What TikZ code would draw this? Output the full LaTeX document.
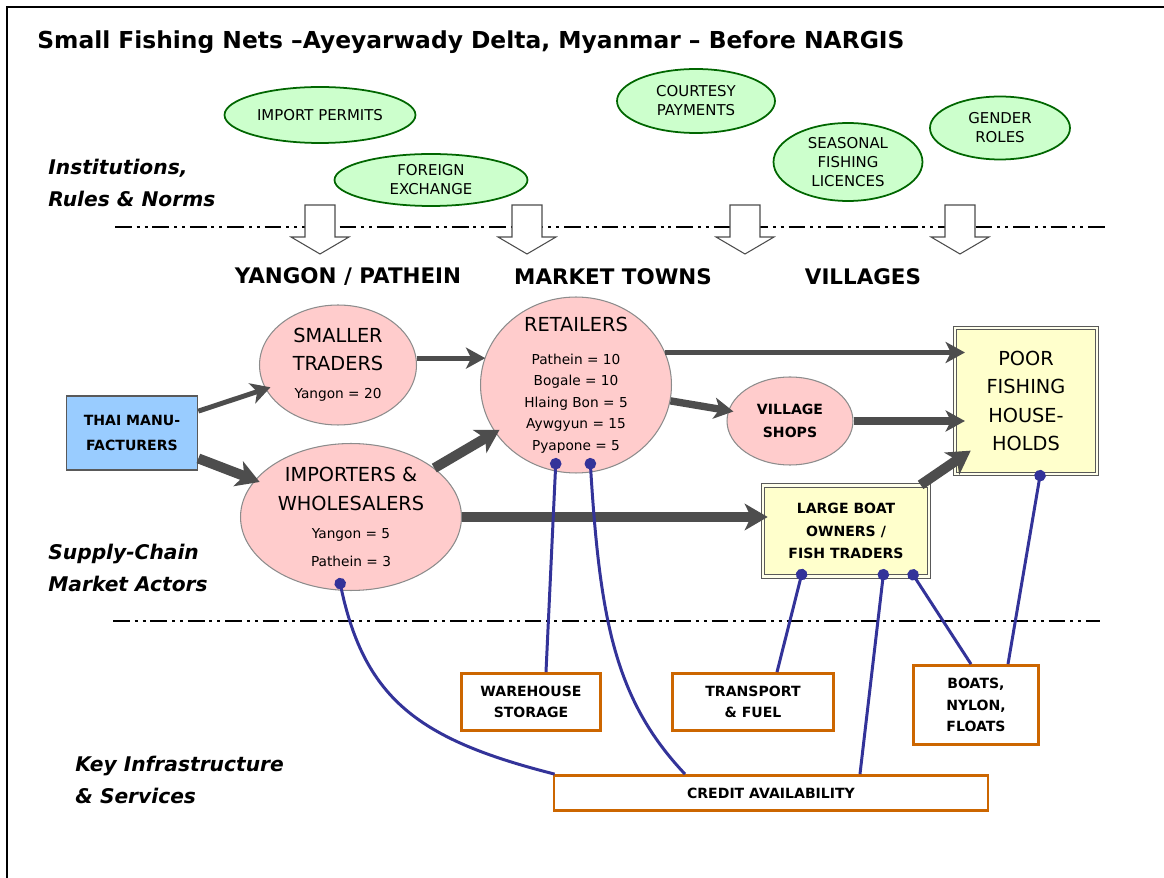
\documentclass[tikz,border=0pt]{standalone}
\usepackage{fontspec}
\setmainfont{DejaVu Sans}
\usepackage{xcolor}
\usepackage{tikz}
\usetikzlibrary{arrows.meta,positioning,shapes.geometric}

\definecolor{rulegreen}{HTML}{CCFFCC}
\definecolor{ruleedge}{HTML}{006600}
\definecolor{actorpink}{HTML}{FFCCCC}
\definecolor{actorblue}{HTML}{99CCFF}
\definecolor{actoryellow}{HTML}{FFFFCC}
\definecolor{servorange}{HTML}{CC6600}
\definecolor{flowgray}{HTML}{4D4D4D}
\definecolor{linkblue}{HTML}{333399}

\newcommand{\detail}{\fontsize{7.8}{12.2}\selectfont}

\begin{document}
\begin{tikzpicture}[
    x=0.02cm, y=-0.02cm,
    rule/.style={ellipse, draw=ruleedge, line width=1pt, fill=rulegreen, align=center, inner sep=0pt, font=\fontsize{8.5}{10.8}\selectfont},
    actor/.style={ellipse, draw=black!45, line width=0.6pt, fill=actorpink, align=center, inner sep=0pt, font=\fontsize{11}{16}\selectfont},
    maker/.style={draw=black!65, line width=1pt, fill=actorblue, align=center, inner sep=0pt, font=\bfseries\fontsize{8}{14.7}\selectfont},
    target/.style={draw=black!65, double=actoryellow!40!white, double distance=1.4pt, line width=0.7pt, fill=actoryellow, align=center, inner sep=0pt},
    service/.style={draw=servorange, line width=1.6pt, fill=white, align=center, inner sep=0pt, font=\bfseries\fontsize{8}{12.3}\selectfont},
    flow/.style={draw=flowgray, line width=2.8pt, -{Stealth[length=11pt, width=12pt, inset=3pt]}, shorten >=-3pt},
    flowmid/.style={flow, line width=4.2pt},
    flowthick/.style={draw=flowgray, line width=5.7pt, -{Stealth[length=13pt, width=15pt, inset=3.5pt]}, shorten >=-3pt},
    into/.style={shorten >=-6pt},
    link/.style={draw=linkblue, line width=1.7pt, {Circle[length=6.5pt]}-},
    rulesep/.style={line width=1.7pt, dash pattern=on 9.5pt off 2.8pt on 1.7pt off 2.8pt on 1.7pt off 2.8pt},
    hollow/.style={draw=black!70, line width=0.6pt, fill=white},
    area/.style={font=\bfseries\fontsize{12.2}{14}\selectfont},
    layer/.style={anchor=west, inner sep=0pt, align=left, font=\bfseries\itshape\fontsize{11.5}{18}\selectfont}
  ]
    \useasboundingbox (0,0) rectangle (1164,878);
    \draw[line width=1.1pt] (7,878) -- (7,7) -- (1164,7);

    \node[anchor=west, inner sep=0pt, font=\bfseries\fontsize{13.3}{15}\selectfont] (title) at (37,42) {Small Fishing Nets –Ayeyarwady Delta, Myanmar – Before NARGIS};

    \draw[rulesep] (115,227) -- (1106,227);
    \draw[rulesep] (113,621) -- (1100,621);
    \foreach \x in {320,527,745,960}
      \draw[hollow] (\x-15,205) -- (\x+15,205) -- (\x+15,237) -- (\x+29,237) -- (\x,254) -- (\x-29,237) -- (\x-15,237) -- cycle;

    \node[rule, minimum width=3.82cm, minimum height=1.12cm] (permits) at (320,115) {IMPORT PERMITS};
    \node[rule, minimum width=3.86cm, minimum height=1.04cm] (forex) at (431,180) {FOREIGN\\EXCHANGE};
    \node[rule, minimum width=3.16cm, minimum height=1.28cm] (courtesy) at (696,101) {COURTESY\\PAYMENTS};
    \node[rule, minimum width=2.98cm, minimum height=1.56cm] (licences) at (848,162) {SEASONAL\\FISHING\\LICENCES};
    \node[rule, minimum width=2.8cm, minimum height=1.26cm] (gender) at (1000,128) {GENDER\\ROLES};

    \node[layer] (rules) at (48,183) {Institutions,\\Rules \& Norms};
    \node[layer] (actors) at (48,568) {Supply-Chain\\Market Actors};
    \node[layer] (infra) at (75,780) {Key Infrastructure\\\& Services};

    \node[area] (capital) at (348,277) {YANGON / PATHEIN};
    \node[area] (towns) at (613,277) {MARKET TOWNS};
    \node[area] (villages) at (863,277) {VILLAGES};

    \node[maker, minimum width=2.62cm, minimum height=1.48cm] (thai) at (132,433) {THAI MANU-\\FACTURERS};
    \node[actor, minimum width=3.14cm, minimum height=2.4cm] (smalltr) at (338,365) {SMALLER\\TRADERS\\\detail Yangon = 20};
    \node[actor, minimum width=3.82cm, minimum height=3.52cm, inner ysep=-9pt, font=\fontsize{11}{12.2}\selectfont] (retail) at (576,385) {RETAILERS\\[6.5pt]\detail Pathein = 10\\\detail Bogale = 10\\\detail Hlaing Bon = 5\\\detail Aywgyun = 15\\\detail Pyapone = 5};
    \node[actor, minimum width=4.42cm, minimum height=2.94cm] (importers) at (351,517) {IMPORTERS \&\\WHOLESALERS\\\detail Yangon = 5\\\detail Pathein = 3};
    \node[actor, minimum width=2.52cm, minimum height=1.76cm, font=\bfseries\fontsize{8}{13}\selectfont] (shops) at (790,421) {VILLAGE\\SHOPS};
    \node[target, minimum width=2.84cm, minimum height=2.92cm, font=\fontsize{11}{16}\selectfont] (poor) at (1026,401) {POOR\\FISHING\\HOUSE-\\HOLDS};
    \node[target, minimum width=3.32cm, minimum height=1.82cm, font=\bfseries\fontsize{8}{13}\selectfont] (boatown) at (846,531) {LARGE BOAT\\OWNERS /\\FISH TRADERS};

    \draw[flow] (thai) -- (smalltr);
    \draw[flowthick] (thai) -- (importers);
    \draw[flow] (smalltr.5) -- (smalltr.5 -| retail.west);
    \draw[flowthick] (importers) -- (retail);
    \draw[flowthick] (importers.east) -- (importers.east -| boatown.west);
    \draw[flow, into] (retail.20) -- (retail.20 -| poor.west);
    \draw[flowmid] (retail) -- (shops);
    \draw[flowmid, into] (shops.east) -- (shops.east -| poor.west);
    \draw[flowthick] ([xshift=-0.18cm]boatown.north east) -- ([xshift=0.24cm, yshift=0.42cm]poor.south west);

    \node[service, minimum width=2.78cm, minimum height=1.14cm] (store) at (531,702) {WAREHOUSE\\STORAGE};
    \node[service, minimum width=3.22cm, minimum height=1.14cm] (transport) at (753,702) {TRANSPORT\\\& FUEL};
    \node[service, minimum width=2.5cm, minimum height=1.58cm] (boats) at (976,705) {BOATS,\\NYLON,\\FLOATS};
    \node[service, minimum width=8.68cm, minimum height=0.7cm] (credit) at (771,793) {CREDIT AVAILABILITY};

    \coordinate (importersdot) at (339,578);
    \coordinate (retaildotA) at (556,458);
    \coordinate (retaildotB) at (590,458);
    \coordinate (boatdotA) at (803,569);
    \coordinate (boatdotB) at (884,569);
    \coordinate (boatdotC) at (910,570);
    \coordinate (poordot) at (1041,470);

    \draw[link] (importersdot) .. controls (365,700) and (420,740) .. ([xshift=0.04cm]credit.north west);
    \draw[link] (retaildotA) -- ([xshift=0.3cm]store.north);
    \draw[link] (retaildotB) .. controls (600,620) and (615,700) .. ([xshift=-1.72cm]credit.north);
    \draw[link] (boatdotA) -- ([xshift=0.48cm]transport.north);
    \draw[link] (boatdotB) -- ([xshift=1.78cm]credit.north);
    \draw[link] (boatdotC) -- ([xshift=-0.1cm]boats.north);
    \draw[link] (poordot) -- ([xshift=0.64cm]boats.north);
  \end{tikzpicture}
\end{document}
